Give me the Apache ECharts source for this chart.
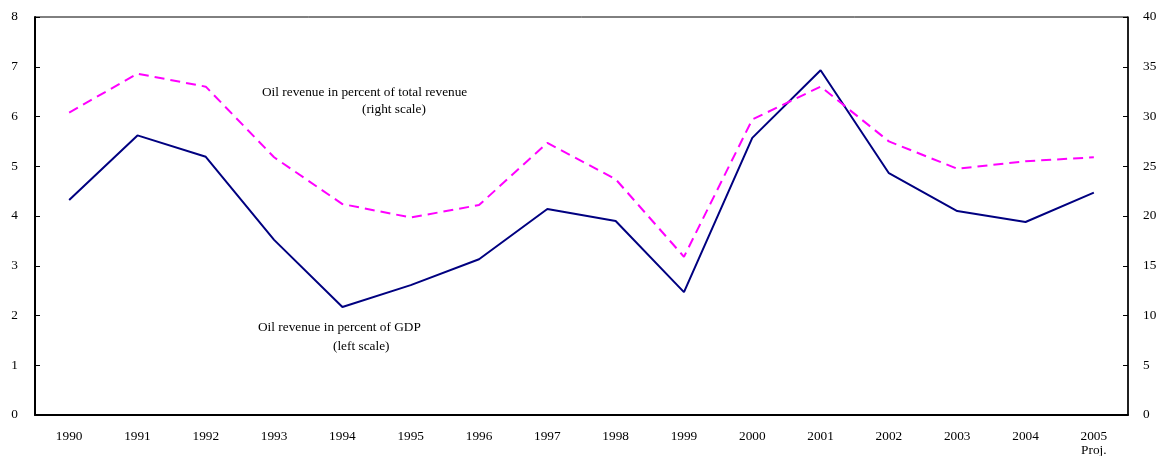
<!DOCTYPE html>
<html>
<head>
<meta charset="utf-8">
<script src="https://cdn.jsdelivr.net/npm/echarts@6/dist/echarts.min.js"></script>
<style>html,body{margin:0;padding:0;background:#fff}#c{width:1156px;height:456px}</style>
</head>
<body>
<div id="c"></div>
<script>
const years = ['1990','1991','1992','1993','1994','1995','1996','1997','1998','1999','2000','2001','2002','2003','2004','2005'];
const oilGdp = [4.32, 5.62, 5.19, 3.52, 2.17, 2.61, 3.13, 4.14, 3.90, 2.47, 5.57, 6.93, 4.86, 4.10, 3.88, 4.47];
const oilTotal = [30.4, 34.3, 33.0, 25.9, 21.2, 19.85, 21.1, 27.35, 23.7, 15.9, 29.7, 33.0, 27.5, 24.75, 25.5, 25.9];
const leftTicks = [0, 8, 1];
const rightTicks = [0, 40, 5];

const font = 'Liberation Serif';
const chart = echarts.init(document.getElementById('c'), null, {renderer: 'canvas'});
chart.setOption({
  animation: false,
  backgroundColor: '#fff',
  grid: {left: 35, right: 28, top: 17, bottom: 41, show: true, borderColor: '#000', borderWidth: 1,
         backgroundColor: 'transparent', containLabel: false, outerBoundsMode: 'none'},
  xAxis: {
    type: 'category', data: years, boundaryGap: true,
    axisLine: {lineStyle: {color: '#000', width: 2}},
    axisTick: {inside: true, length: 5, lineStyle: {color: '#000', width: 1}},
    axisLabel: {color: '#000', fontFamily: font, fontSize: 13.3, margin: 15, lineHeight: 14,
      formatter: v => v === '2005' ? '2005\nProj.' : v}
  },
  yAxis: [
    {type: 'value', min: leftTicks[0], max: leftTicks[1], interval: leftTicks[2], position: 'left',
     axisLine: {show: true, lineStyle: {color: '#000', width: 2}},
     axisTick: {show: true, inside: true, length: 5, lineStyle: {color: '#000'}},
     splitLine: {show: false},
     axisLabel: {color: '#000', fontFamily: font, fontSize: 13.3, margin: 17}},
    {type: 'value', min: rightTicks[0], max: rightTicks[1], interval: rightTicks[2], position: 'right',
     axisLine: {show: true, lineStyle: {color: '#000', width: 1.5}},
     axisTick: {show: true, inside: true, length: 5, lineStyle: {color: '#000'}},
     splitLine: {show: false},
     axisLabel: {color: '#000', fontFamily: font, fontSize: 13.3, margin: 15}}
  ],
  series: [
    {type: 'line', name: 'Oil revenue in percent of GDP', data: oilGdp, yAxisIndex: 0,
     symbol: 'none', lineStyle: {color: '#000080', width: 2}},
    {type: 'line', name: 'Oil revenue in percent of total revenue', data: oilTotal, yAxisIndex: 1,
     symbol: 'none', lineStyle: {color: '#FF00FF', width: 2, type: [10, 6]}}
  ],
  graphic: [
    {type: 'text', left: 262, top: 86, style: {text: 'Oil revenue in percent of total revenue', font: '13.3px "Liberation Serif"', fill: '#000'}},
    {type: 'text', left: 362, top: 103, style: {text: '(right scale)', font: '13.3px "Liberation Serif"', fill: '#000'}},
    {type: 'text', left: 258, top: 321, style: {text: 'Oil revenue in percent of GDP', font: '13.3px "Liberation Serif"', fill: '#000'}},
    {type: 'text', left: 333, top: 340, style: {text: '(left scale)', font: '13.3px "Liberation Serif"', fill: '#000'}}
  ]
});
</script>
</body>
</html>
